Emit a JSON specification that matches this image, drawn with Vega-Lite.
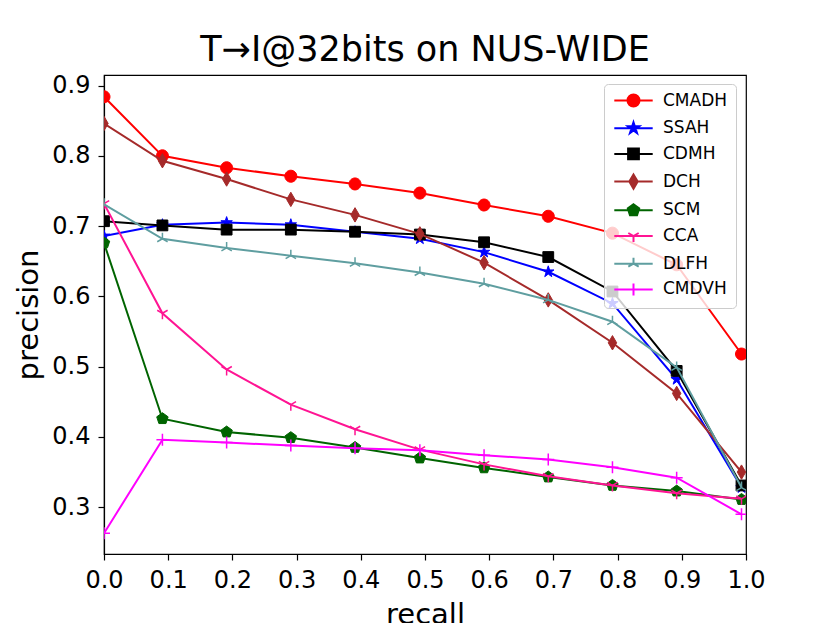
{
  "$schema": "https://vega.github.io/schema/vega-lite/v6.json",
  "autosize": {"type": "none"},
  "width": 642,
  "height": 479,
  "padding": {"left": 104, "top": 75, "right": 84, "bottom": 69},
  "background": "white",
  "title": {"text": "T→I@32bits on NUS-WIDE", "font": "DejaVu Sans", "fontSize": 35, "fontWeight": "normal", "color": "black", "anchor": "middle", "baseline": "alphabetic", "offset": 5, "dy": 27},
  "config": {
    "view": {"stroke": "black", "strokeWidth": 1.2},
    "axis": {"labelFont": "DejaVu Sans", "labelFontSize": 24, "labelColor": "black", "tickColor": "black", "domainColor": "black", "tickSize": 6, "tickWidth": 1.2, "domainWidth": 1.2, "titleFont": "DejaVu Sans", "titleFontSize": 29, "titleFontWeight": "normal", "titleColor": "black", "grid": false, "labelPadding": 8}
  },
  "data": {"values": [
    {"method": "CMADH", "recall": 0.0, "precision": 0.884},
    {"method": "CMADH", "recall": 0.091, "precision": 0.800},
    {"method": "CMADH", "recall": 0.191, "precision": 0.783},
    {"method": "CMADH", "recall": 0.291, "precision": 0.771},
    {"method": "CMADH", "recall": 0.391, "precision": 0.760},
    {"method": "CMADH", "recall": 0.492, "precision": 0.747},
    {"method": "CMADH", "recall": 0.592, "precision": 0.730},
    {"method": "CMADH", "recall": 0.692, "precision": 0.714},
    {"method": "CMADH", "recall": 0.792, "precision": 0.690},
    {"method": "CMADH", "recall": 0.892, "precision": 0.645},
    {"method": "CMADH", "recall": 0.993, "precision": 0.518},
    {"method": "SSAH", "recall": 0.0, "precision": 0.686},
    {"method": "SSAH", "recall": 0.091, "precision": 0.702},
    {"method": "SSAH", "recall": 0.191, "precision": 0.705},
    {"method": "SSAH", "recall": 0.291, "precision": 0.702},
    {"method": "SSAH", "recall": 0.391, "precision": 0.692},
    {"method": "SSAH", "recall": 0.492, "precision": 0.682},
    {"method": "SSAH", "recall": 0.592, "precision": 0.663},
    {"method": "SSAH", "recall": 0.692, "precision": 0.635},
    {"method": "SSAH", "recall": 0.792, "precision": 0.590},
    {"method": "SSAH", "recall": 0.892, "precision": 0.482},
    {"method": "SSAH", "recall": 0.993, "precision": 0.328},
    {"method": "CDMH", "recall": 0.0, "precision": 0.707},
    {"method": "CDMH", "recall": 0.091, "precision": 0.701},
    {"method": "CDMH", "recall": 0.191, "precision": 0.695},
    {"method": "CDMH", "recall": 0.291, "precision": 0.695},
    {"method": "CDMH", "recall": 0.391, "precision": 0.692},
    {"method": "CDMH", "recall": 0.492, "precision": 0.688},
    {"method": "CDMH", "recall": 0.592, "precision": 0.677},
    {"method": "CDMH", "recall": 0.692, "precision": 0.656},
    {"method": "CDMH", "recall": 0.792, "precision": 0.607},
    {"method": "CDMH", "recall": 0.892, "precision": 0.494},
    {"method": "CDMH", "recall": 0.993, "precision": 0.331},
    {"method": "DCH", "recall": 0.0, "precision": 0.846},
    {"method": "DCH", "recall": 0.091, "precision": 0.793},
    {"method": "DCH", "recall": 0.191, "precision": 0.767},
    {"method": "DCH", "recall": 0.291, "precision": 0.738},
    {"method": "DCH", "recall": 0.391, "precision": 0.716},
    {"method": "DCH", "recall": 0.492, "precision": 0.689},
    {"method": "DCH", "recall": 0.592, "precision": 0.648},
    {"method": "DCH", "recall": 0.692, "precision": 0.595},
    {"method": "DCH", "recall": 0.792, "precision": 0.534},
    {"method": "DCH", "recall": 0.892, "precision": 0.462},
    {"method": "DCH", "recall": 0.993, "precision": 0.350},
    {"method": "SCM", "recall": 0.0, "precision": 0.676},
    {"method": "SCM", "recall": 0.091, "precision": 0.426},
    {"method": "SCM", "recall": 0.191, "precision": 0.407},
    {"method": "SCM", "recall": 0.291, "precision": 0.399},
    {"method": "SCM", "recall": 0.391, "precision": 0.385},
    {"method": "SCM", "recall": 0.492, "precision": 0.370},
    {"method": "SCM", "recall": 0.592, "precision": 0.356},
    {"method": "SCM", "recall": 0.692, "precision": 0.343},
    {"method": "SCM", "recall": 0.792, "precision": 0.331},
    {"method": "SCM", "recall": 0.892, "precision": 0.323},
    {"method": "SCM", "recall": 0.993, "precision": 0.311},
    {"method": "CCA", "recall": 0.0, "precision": 0.732},
    {"method": "CCA", "recall": 0.091, "precision": 0.576},
    {"method": "CCA", "recall": 0.191, "precision": 0.496},
    {"method": "CCA", "recall": 0.291, "precision": 0.446},
    {"method": "CCA", "recall": 0.391, "precision": 0.411},
    {"method": "CCA", "recall": 0.492, "precision": 0.382},
    {"method": "CCA", "recall": 0.592, "precision": 0.361},
    {"method": "CCA", "recall": 0.692, "precision": 0.344},
    {"method": "CCA", "recall": 0.792, "precision": 0.331},
    {"method": "CCA", "recall": 0.892, "precision": 0.320},
    {"method": "CCA", "recall": 0.993, "precision": 0.312},
    {"method": "DLFH", "recall": 0.0, "precision": 0.731},
    {"method": "DLFH", "recall": 0.091, "precision": 0.682},
    {"method": "DLFH", "recall": 0.191, "precision": 0.669},
    {"method": "DLFH", "recall": 0.291, "precision": 0.658},
    {"method": "DLFH", "recall": 0.391, "precision": 0.647},
    {"method": "DLFH", "recall": 0.492, "precision": 0.634},
    {"method": "DLFH", "recall": 0.592, "precision": 0.618},
    {"method": "DLFH", "recall": 0.692, "precision": 0.595},
    {"method": "DLFH", "recall": 0.792, "precision": 0.564},
    {"method": "DLFH", "recall": 0.892, "precision": 0.499},
    {"method": "DLFH", "recall": 0.993, "precision": 0.328},
    {"method": "CMDVH", "recall": 0.0, "precision": 0.263},
    {"method": "CMDVH", "recall": 0.091, "precision": 0.396},
    {"method": "CMDVH", "recall": 0.191, "precision": 0.392},
    {"method": "CMDVH", "recall": 0.291, "precision": 0.388},
    {"method": "CMDVH", "recall": 0.391, "precision": 0.384},
    {"method": "CMDVH", "recall": 0.492, "precision": 0.381},
    {"method": "CMDVH", "recall": 0.592, "precision": 0.374},
    {"method": "CMDVH", "recall": 0.692, "precision": 0.368},
    {"method": "CMDVH", "recall": 0.792, "precision": 0.357},
    {"method": "CMDVH", "recall": 0.892, "precision": 0.342},
    {"method": "CMDVH", "recall": 0.993, "precision": 0.290}
  ]},
  "encoding": {
    "x": {"field": "recall", "type": "quantitative", "scale": {"domain": [0, 1], "nice": false, "zero": false}, "axis": {"values": [0, 0.1, 0.2, 0.3, 0.4, 0.5, 0.6, 0.7, 0.8, 0.9, 1.0], "format": ".1f", "labelFlush": false, "labelOverlap": false, "title": "recall", "titlePadding": 8}},
    "y": {"field": "precision", "type": "quantitative", "scale": {"domain": [0.2335, 0.915], "nice": false, "zero": false}, "axis": {"values": [0.3, 0.4, 0.5, 0.6, 0.7, 0.8, 0.9], "format": ".1f", "labelFlush": false, "labelOverlap": false, "title": "precision", "titlePadding": 8}}
  },
  "layer": [
    {"transform": [{"filter": {"field": "method", "equal": "CMADH"}}], "layer": [
      {"mark": {"type": "line", "color": "#ff0000", "strokeWidth": 2, "clip": true}, "encoding": {}},
      {"mark": {"type": "point", "shape": "M-1,0A1,1,0,1,0,1,0A1,1,0,1,0,-1,0Z", "size": 144, "filled": true, "fill": "#ff0000", "stroke": "#ff0000", "strokeWidth": 1, "opacity": 1, "clip": true}, "encoding": {}}
    ]},
    {"transform": [{"filter": {"field": "method", "equal": "SSAH"}}], "layer": [
      {"mark": {"type": "line", "color": "#0000ff", "strokeWidth": 2, "clip": true}, "encoding": {}},
      {"mark": {"type": "point", "shape": "M0,-1L0.2245,-0.309L0.951,-0.309L0.363,0.118L0.588,0.809L0,0.382L-0.588,0.809L-0.363,0.118L-0.951,-0.309L-0.2245,-0.309Z", "size": 144, "filled": true, "fill": "#0000ff", "stroke": "#0000ff", "strokeWidth": 1, "opacity": 1, "clip": true}, "encoding": {}}
    ]},
    {"transform": [{"filter": {"field": "method", "equal": "CDMH"}}], "layer": [
      {"mark": {"type": "line", "color": "#000000", "strokeWidth": 2, "clip": true}, "encoding": {}},
      {"mark": {"type": "point", "shape": "M-0.9,-0.9L0.9,-0.9L0.9,0.9L-0.9,0.9Z", "size": 144, "filled": true, "fill": "#000000", "stroke": "#000000", "strokeWidth": 1, "opacity": 1, "clip": true}, "encoding": {}}
    ]},
    {"transform": [{"filter": {"field": "method", "equal": "DCH"}}], "layer": [
      {"mark": {"type": "line", "color": "#a52a2a", "strokeWidth": 2, "clip": true}, "encoding": {}},
      {"mark": {"type": "point", "shape": "M0,-1.2L0.7,0L0,1.2L-0.7,0Z", "size": 144, "filled": true, "fill": "#a52a2a", "stroke": "#a52a2a", "strokeWidth": 1, "opacity": 1, "clip": true}, "encoding": {}}
    ]},
    {"transform": [{"filter": {"field": "method", "equal": "SCM"}}], "layer": [
      {"mark": {"type": "line", "color": "#006400", "strokeWidth": 2, "clip": true}, "encoding": {}},
      {"mark": {"type": "point", "shape": "M0,-1L0.951,-0.309L0.588,0.809L-0.588,0.809L-0.951,-0.309Z", "size": 144, "filled": true, "fill": "#006400", "stroke": "#006400", "strokeWidth": 1, "opacity": 1, "clip": true}, "encoding": {}}
    ]},
    {"transform": [{"filter": {"field": "method", "equal": "CCA"}}], "layer": [
      {"mark": {"type": "line", "color": "#ff1493", "strokeWidth": 2, "clip": true}, "encoding": {}},
      {"mark": {"type": "point", "shape": "M0,0L0,1M0,0L-0.866,-0.5M0,0L0.866,-0.5", "size": 144, "filled": false, "stroke": "#ff1493", "strokeWidth": 1.5, "opacity": 1, "clip": true}, "encoding": {}}
    ]},
    {"transform": [{"filter": {"field": "method", "equal": "DLFH"}}], "layer": [
      {"mark": {"type": "line", "color": "#5f9ea0", "strokeWidth": 2, "clip": true}, "encoding": {}},
      {"mark": {"type": "point", "shape": "M0,0L0,-1M0,0L-0.866,0.5M0,0L0.866,0.5", "size": 144, "filled": false, "stroke": "#5f9ea0", "strokeWidth": 1.5, "opacity": 1, "clip": true}, "encoding": {}}
    ]},
    {"transform": [{"filter": {"field": "method", "equal": "CMDVH"}}], "layer": [
      {"mark": {"type": "line", "color": "#ff00ff", "strokeWidth": 2, "clip": true}, "encoding": {}},
      {"mark": {"type": "point", "shape": "M-1,0L1,0M0,-1L0,1", "size": 144, "filled": false, "stroke": "#ff00ff", "strokeWidth": 1.5, "opacity": 1, "clip": true}, "encoding": {}}
    ]},
    {
      "mark": {"type": "point", "filled": false, "size": 144, "strokeWidth": 2, "opacity": 0, "clip": true},
      "encoding": {
        "fill": {"field": "method", "type": "nominal",
          "scale": {"domain": ["CMADH", "SSAH", "CDMH", "DCH", "SCM", "CCA", "DLFH", "CMDVH"], "range": ["#ff0000", "#0000ff", "#000000", "#a52a2a", "#006400", "#ff1493", "#5f9ea0", "#ff00ff"]},
          "legend": {"title": null, "orient": "none", "legendX": 500, "legendY": 9, "labelFont": "DejaVu Sans", "labelFontSize": 17, "labelColor": "black", "symbolSize": 144, "symbolStrokeWidth": 2, "symbolOpacity": 1, "symbolOffset": 13, "labelOffset": 21, "rowPadding": 6.7, "padding": 8, "fillColor": "rgba(255,255,255,0.8)", "strokeColor": "#cccccc", "cornerRadius": 4}},
        "stroke": {"field": "method", "type": "nominal",
          "scale": {"domain": ["CMADH", "SSAH", "CDMH", "DCH", "SCM", "CCA", "DLFH", "CMDVH"], "range": ["#ff0000", "#0000ff", "#000000", "#a52a2a", "#006400", "#ff1493", "#5f9ea0", "#ff00ff"]},
          "legend": {"title": null, "orient": "none", "legendX": 500, "legendY": 9, "labelFont": "DejaVu Sans", "labelFontSize": 17, "labelColor": "black", "symbolSize": 144, "symbolStrokeWidth": 2, "symbolOpacity": 1, "symbolOffset": 13, "labelOffset": 21, "rowPadding": 6.7, "padding": 8, "fillColor": "rgba(255,255,255,0.8)", "strokeColor": "#cccccc", "cornerRadius": 4}},
        "shape": {"field": "method", "type": "nominal",
          "legend": {"title": null, "orient": "none", "legendX": 500, "legendY": 9, "labelFont": "DejaVu Sans", "labelFontSize": 17, "labelColor": "black", "symbolSize": 144, "symbolStrokeWidth": 2, "symbolOpacity": 1, "symbolOffset": 13, "labelOffset": 21, "rowPadding": 6.7, "padding": 8, "fillColor": "rgba(255,255,255,0.8)", "strokeColor": "#cccccc", "cornerRadius": 4},
          "scale": {"domain": ["CMADH", "SSAH", "CDMH", "DCH", "SCM", "CCA", "DLFH", "CMDVH"], "range": [
            "M-3.2,0L3.2,0M-1,0A1,1,0,1,0,1,0A1,1,0,1,0,-1,0Z",
            "M-3.2,0L3.2,0M0,-1L0.2245,-0.309L0.951,-0.309L0.363,0.118L0.588,0.809L0,0.382L-0.588,0.809L-0.363,0.118L-0.951,-0.309L-0.2245,-0.309Z",
            "M-3.2,0L3.2,0M-0.9,-0.9L0.9,-0.9L0.9,0.9L-0.9,0.9Z",
            "M-3.2,0L3.2,0M0,-1.2L0.7,0L0,1.2L-0.7,0Z",
            "M-3.2,0L3.2,0M0,-1L0.951,-0.309L0.588,0.809L-0.588,0.809L-0.951,-0.309Z",
            "M-3.2,0L3.2,0M0,0L0,1M0,0L-0.866,-0.5M0,0L0.866,-0.5",
            "M-3.2,0L3.2,0M0,0L0,-1M0,0L-0.866,0.5M0,0L0.866,0.5",
            "M-3.2,0L3.2,0M-1,0L1,0M0,-1L0,1"
          ]}}
      }
    }
  ]
}
